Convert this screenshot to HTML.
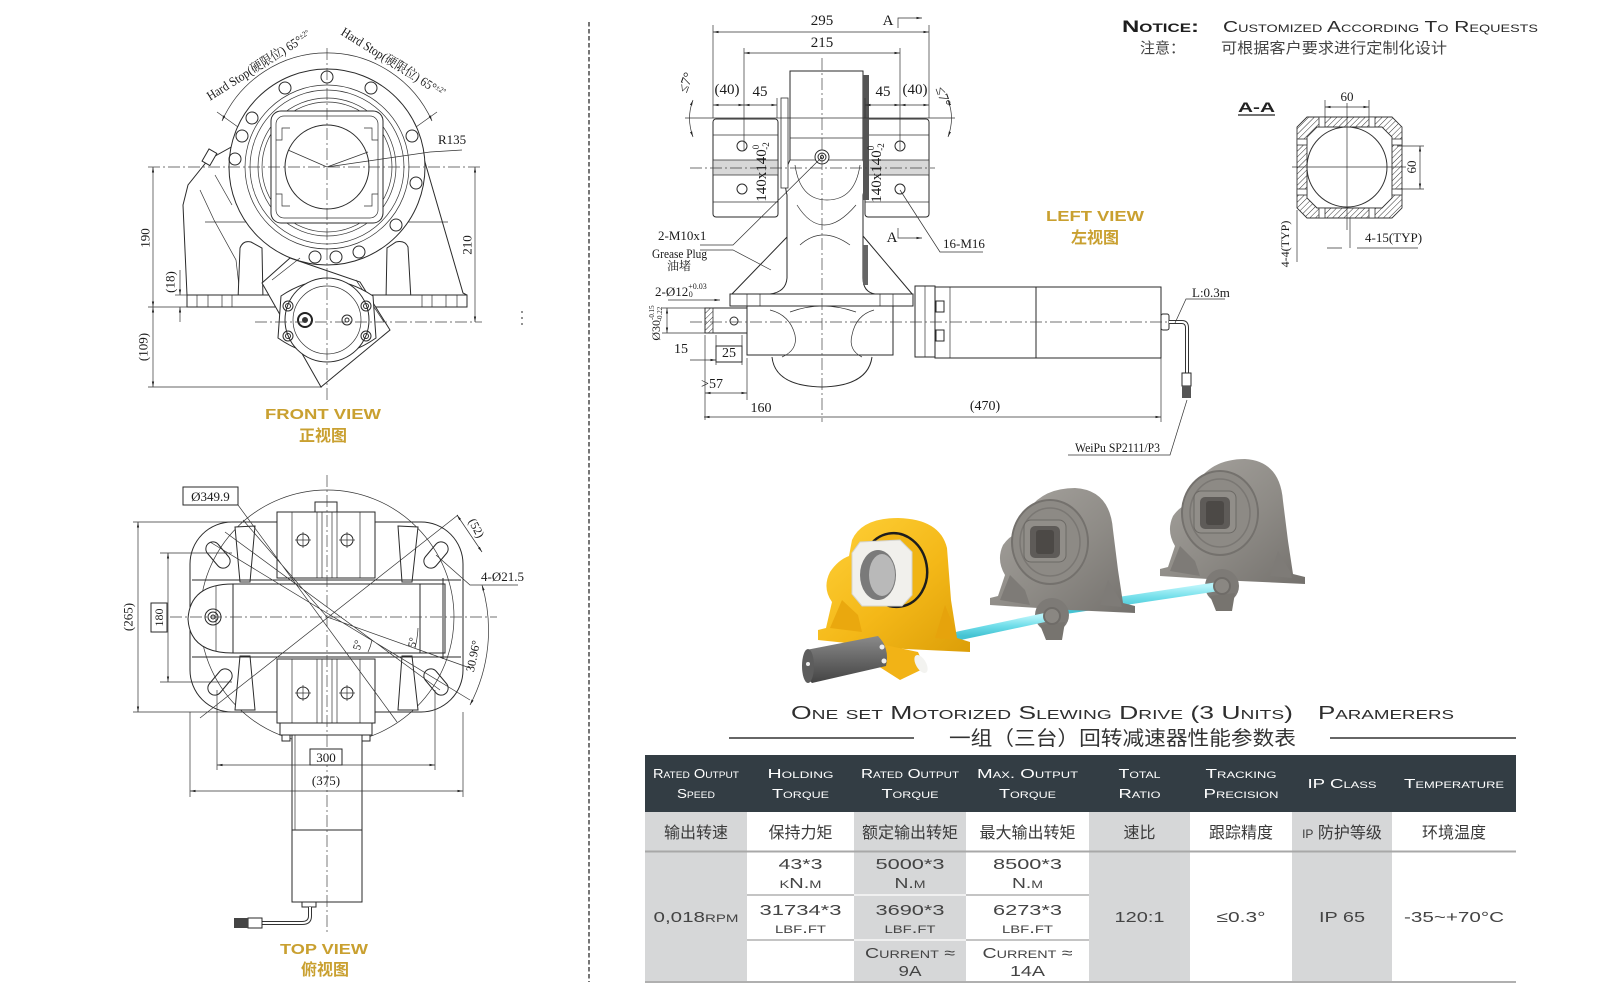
<!DOCTYPE html>
<html><head><meta charset="utf-8"><style>
html,body{margin:0;padding:0;background:#fff;}
svg{display:block;}
.l{stroke:#2a2a2a;stroke-width:1;fill:none}
.w{stroke:#2a2a2a;stroke-width:1;fill:#fff}
.t{stroke:#333;stroke-width:.7;fill:none}
.c{stroke:#444;stroke-width:.7;fill:none;stroke-dasharray:12 3 2 3}
.d{font-family:"Liberation Serif","Noto Serif CJK SC",serif;fill:#1a1a1a}
.s{font-family:"Liberation Sans","Noto Sans CJK SC",sans-serif}
.g{font-family:"Liberation Sans",sans-serif;font-weight:bold;fill:#c9a030}
.gc{font-family:"Noto Sans CJK SC",sans-serif;font-weight:bold;fill:#c9a030}
.sc{font-family:"Liberation Sans",sans-serif;font-variant:small-caps}
</style></head><body>
<svg width="1600" height="1000" viewBox="0 0 1600 1000" xmlns="http://www.w3.org/2000/svg">
<defs>
<marker id="a" viewBox="0 0 10 10" refX="10" refY="5" markerWidth="8" markerHeight="8" orient="auto-start-reverse"><path d="M0,3 L10,5 L0,7z" fill="#222"/></marker>
<pattern id="h" width="4" height="4" patternUnits="userSpaceOnUse" patternTransform="rotate(45)"><line x1="0" y1="0" x2="0" y2="4" stroke="#333" stroke-width="1"/></pattern>
<linearGradient id="yl" x1="0" y1="0" x2="1" y2="1"><stop offset="0" stop-color="#ffd23a"/><stop offset=".55" stop-color="#f4b818"/><stop offset="1" stop-color="#dc9e08"/></linearGradient>
<linearGradient id="gy" x1="0" y1="0" x2="1" y2="1"><stop offset="0" stop-color="#a8a5a0"/><stop offset=".55" stop-color="#8e8b86"/><stop offset="1" stop-color="#74716d"/></linearGradient>
<linearGradient id="mt" x1="0" y1="0" x2="0" y2="1"><stop offset="0" stop-color="#8a8a8a"/><stop offset=".45" stop-color="#6a6a6a"/><stop offset="1" stop-color="#444"/></linearGradient>
<linearGradient id="cy" x1="0" y1="0" x2="0" y2="1"><stop offset="0" stop-color="#b8f4fa"/><stop offset=".5" stop-color="#6fdde9"/><stop offset="1" stop-color="#45c3d3"/></linearGradient>
</defs>

<!-- separator -->
<line x1="589" y1="22" x2="589" y2="982" stroke="#555" stroke-width="1.6" stroke-dasharray="4.5 2.5"/>
<circle cx="522" cy="312" r="0.9" fill="#444"/><circle cx="522" cy="318" r="0.9" fill="#444"/><circle cx="522" cy="324" r="0.9" fill="#444"/>

<!-- ================= FRONT VIEW ================= -->
<g>
<path class="w" d="M187,307 L187,295 L183,205 L188,185 L208,160 L235,145 L420,145 L463,293 L467,295 L467,307 Z"/>
<line class="t" x1="205" y1="222" x2="448" y2="222"/>
<path class="t" d="M200,190 L214,220 L236,260 L240,295"/>
<path class="t" d="M215,175 L232,205"/>
<rect class="w" x="205" y="150" width="9" height="14" transform="rotate(30 209 157)"/>
<path class="w" d="M238,300 L240,248 Q243,240 251,242 L262,248 L263,300 Z"/>
<path class="w" d="M386,300 L387,248 L396,242 Q405,240 408,247 L411,300 Z"/>
<rect class="w" x="187" y="295" width="280" height="12"/>
<path class="t" d="M197,295V307M208,295V307M222,295V307M232,295V307M422,295V307M432,295V307M446,295V307M457,295V307"/>
<circle class="w" cx="327" cy="167" r="98"/>
<circle class="t" cx="327" cy="167" r="82"/>
<circle class="t" cx="327" cy="167" r="77"/>
<circle class="t" cx="327" cy="167" r="69"/>
<circle class="t" cx="327" cy="167" r="65"/>
<g class="l" stroke-width=".9">
<circle cx="235" cy="159" r="6"/><circle cx="242" cy="136" r="6"/><circle cx="252" cy="118" r="6"/>
<circle cx="285" cy="88" r="6"/><circle cx="327" cy="77" r="6"/><circle cx="371" cy="88" r="6"/>
<circle cx="412" cy="136" r="6"/><circle cx="416" cy="183" r="6"/><circle cx="396" cy="225" r="6"/>
<circle cx="359" cy="252" r="6"/><circle cx="336" cy="257" r="6"/><circle cx="315" cy="257" r="6"/>
</g>
<rect class="w" x="271" y="111" width="112" height="112" rx="10"/>
<rect class="t" x="276" y="116" width="102" height="102" rx="8"/>
<path class="t" d="M276,140h6v-12h8M378,140h-6v-12h-8M276,194h6v12h8M378,194h-6v12h-8"/>
<circle class="w" cx="327" cy="167" r="42"/>
<path class="t" d="M327,167 L288,150 M327,167 L368,152 M327,167 L430,152 L462,150"/>
<!-- motor mount -->
<path class="w" d="M290,258 L262,283 L321,387 L390,330 L360,282 Z"/>
<path class="t" d="M272,280 L300,258 M384,322 L356,280"/>
<path class="w" d="M281,296 Q327,265 373,296 L376,338 Q327,372 278,338 Z"/>
<circle class="w" cx="327" cy="320" r="42"/>
<circle class="t" cx="327" cy="320" r="34"/>
<g class="l"><circle cx="288" cy="306" r="5"/><circle cx="366" cy="306" r="5"/><circle cx="288" cy="336" r="5"/><circle cx="366" cy="336" r="5"/>
<circle cx="288" cy="306" r="2.5"/><circle cx="366" cy="306" r="2.5"/><circle cx="288" cy="336" r="2.5"/><circle cx="366" cy="336" r="2.5"/></g>
<circle cx="305" cy="320" r="7" fill="#fff" stroke="#222" stroke-width="2"/><circle cx="305" cy="320" r="3" fill="#333"/>
<circle class="l" cx="347" cy="320" r="5"/><circle class="l" cx="347" cy="320" r="2"/>
<!-- centerlines -->
<line class="c" x1="327" y1="48" x2="327" y2="402"/>
<line class="c" x1="148" y1="167" x2="482" y2="167"/>
<line class="c" x1="255" y1="322" x2="482" y2="322"/>
<!-- dims -->
<line class="t" x1="148" y1="307" x2="190" y2="307"/>
<line class="t" x1="148" y1="387" x2="322" y2="387"/>
<line class="t" x1="153" y1="167" x2="153" y2="307" marker-start="url(#a)" marker-end="url(#a)"/>
<line class="t" x1="153" y1="307" x2="153" y2="387" marker-start="url(#a)" marker-end="url(#a)"/>
<line class="t" x1="180" y1="270" x2="180" y2="295" marker-end="url(#a)"/>
<line class="t" x1="180" y1="322" x2="180" y2="307" marker-end="url(#a)"/>
<line class="t" x1="175" y1="295" x2="187" y2="295"/>
<line class="t" x1="475" y1="167" x2="475" y2="322" marker-start="url(#a)" marker-end="url(#a)"/>
<text class="d" font-size="13" text-anchor="middle" transform="translate(149.5,238) rotate(-90)">190</text>
<text class="d" font-size="13" text-anchor="middle" transform="translate(174.5,282) rotate(-90)">(18)</text>
<text class="d" font-size="13" text-anchor="middle" transform="translate(147.5,347) rotate(-90)">(109)</text>
<text class="d" font-size="13" text-anchor="middle" transform="translate(471.5,245) rotate(-90)">210</text>
<text class="d" font-size="13" x="438" y="144">R135</text>
<path class="t" d="M222,121 A115,115 0 0 1 432,121" marker-start="url(#a)" marker-end="url(#a)"/>
<path class="t" d="M217,112 L238,127 M437,112 L416,127"/>
<text class="d" font-size="13" text-anchor="middle" transform="translate(261,69) rotate(-32)" textLength="120" lengthAdjust="spacingAndGlyphs">Hard Stop(硬限位) 65°<tspan font-size="8" dy="-4">±2°</tspan></text>
<text class="d" font-size="13" text-anchor="middle" transform="translate(391,66) rotate(32)" textLength="120" lengthAdjust="spacingAndGlyphs">Hard Stop(硬限位) 65°<tspan font-size="8" dy="-4">±2°</tspan></text>
<text class="g" font-size="15" x="323" y="419" text-anchor="middle" textLength="116" lengthAdjust="spacingAndGlyphs">FRONT VIEW</text>
<text class="gc" font-size="16" x="323" y="441" text-anchor="middle">正视图</text>
</g>

<!-- ================= TOP VIEW ================= -->
<g>
<rect class="w" x="190" y="522" width="273" height="190" rx="42"/>
<circle class="t" cx="327" cy="617" r="127" stroke-width=".6"/>
<g class="l">
<rect x="203" y="548" width="30" height="14" rx="7" transform="rotate(50 218 555)"/>
<rect x="421" y="548" width="30" height="14" rx="7" transform="rotate(-50 436 555)"/>
<rect x="205" y="675" width="30" height="14" rx="7" transform="rotate(-50 220 682)"/>
<rect x="421" y="675" width="30" height="14" rx="7" transform="rotate(50 436 682)"/>
</g>
<path class="w" d="M235,527 L255,526 L250,582 L240,582 Z"/>
<path class="w" d="M398,526 L418,527 L412,582 L402,582 Z"/>
<path class="w" d="M240,656 L250,656 L255,710 L235,710 Z"/>
<path class="w" d="M402,656 L412,656 L418,710 L398,710 Z"/>
<line class="l" x1="192" y1="580" x2="461" y2="580"/>
<line class="l" x1="192" y1="657" x2="461" y2="657"/>
<path class="w" d="M233,584 L445,584 L445,653 L233,653 Q190,653 188,619 Q190,584 233,584 Z"/>
<line class="l" x1="233" y1="584" x2="233" y2="653"/>
<line class="t" x1="216" y1="586" x2="216" y2="651"/>
<line class="l" x1="420" y1="584" x2="420" y2="653"/>
<line class="l" x1="443" y1="578" x2="443" y2="659"/>
<circle class="l" cx="213" cy="617" r="8"/><circle class="l" cx="213" cy="617" r="5"/><circle class="l" cx="213" cy="617" r="2"/>
<rect class="w" x="315" y="502" width="22" height="10"/>
<rect class="w" x="277" y="512" width="98" height="66"/>
<path class="t" d="M292,512V578M317,512V578M322,512V578M332,512V578M337,512V578M360,512V578"/>
<rect class="w" x="277" y="659" width="98" height="64"/>
<path class="t" d="M292,659V723M317,659V723M322,659V723M332,659V723M337,659V723M360,659V723"/>
<g class="l"><circle cx="303" cy="540" r="6"/><circle cx="347" cy="540" r="6"/><circle cx="303" cy="693" r="6"/><circle cx="347" cy="693" r="6"/></g>
<path class="t" d="M295,540h16M303,532v16M339,540h16M347,532v16M295,693h16M303,685v16M339,693h16M347,685v16"/>
<rect class="w" x="280" y="723" width="92" height="12"/>
<rect class="w" x="282" y="735" width="8" height="6"/><rect class="w" x="362" y="735" width="8" height="6"/>
<rect class="w" x="292" y="735" width="70" height="167"/>
<line class="l" x1="292" y1="830" x2="362" y2="830"/>
<line class="t" x1="295" y1="735" x2="295" y2="830"/>
<rect class="w" x="302" y="902" width="14" height="5"/>
<path d="M310,907 L310,916 Q310,923 302,923 L262,923" stroke="#333" stroke-width="4" fill="none"/>
<path d="M310,907 L310,916 Q310,923 302,923 L262,923" stroke="#fff" stroke-width="2" fill="none"/>
<rect class="w" x="248" y="918" width="14" height="10"/><rect x="234" y="918" width="14" height="10" fill="#444"/>
<line class="c" x1="327" y1="475" x2="327" y2="932"/>
<line class="c" x1="170" y1="617" x2="497" y2="617"/>
<path class="t" d="M238,505 L397,722 M210,542 L470,700 M225,532 L440,690 M458,515 L200,718 M243,520 L327,617 L470,668"/>
<rect class="w" x="183" y="487" width="55" height="18"/>
<text class="d" font-size="13" x="210.5" y="501" text-anchor="middle">Ø349.9</text>
<path class="t" d="M133,522H232M133,712H240M160,553H232M160,682H232"/>
<line class="t" x1="138" y1="522" x2="138" y2="712" marker-start="url(#a)" marker-end="url(#a)"/>
<line class="t" x1="168" y1="553" x2="168" y2="682" marker-start="url(#a)" marker-end="url(#a)"/>
<rect class="w" x="151" y="603" width="16" height="29"/>
<text class="d" font-size="12" text-anchor="middle" transform="translate(163,617.5) rotate(-90)">180</text>
<text class="d" font-size="13" text-anchor="middle" transform="translate(132.5,617) rotate(-90)">(265)</text>
<line class="t" x1="457" y1="515" x2="482" y2="552" marker-start="url(#a)" marker-end="url(#a)"/>
<text class="d" font-size="12" text-anchor="middle" transform="translate(473,530) rotate(62)">(52)</text>
<path class="t" d="M436,555 L470,585 L518,585"/>
<text class="d" font-size="13" x="481" y="581">4-Ø21.5</text>
<path class="t" d="M482,585 A160,160 0 0 1 470,705" marker-start="url(#a)" marker-end="url(#a)"/>
<text class="d" font-size="12" text-anchor="middle" transform="translate(477,657) rotate(-78)">30.96°</text>
<path class="t" d="M372,640 A48,48 0 0 1 368,652 M418,628 A95,95 0 0 1 415,648"/>
<text class="d" font-size="11" text-anchor="middle" transform="translate(361,646) rotate(-75)">5°</text>
<text class="d" font-size="11" text-anchor="middle" transform="translate(416,643) rotate(-80)">5°</text>
<path class="t" d="M217,690V770M435,690V770M190,712V797M463,712V797"/>
<line class="t" x1="217" y1="765" x2="435" y2="765" marker-start="url(#a)" marker-end="url(#a)"/>
<line class="t" x1="190" y1="791" x2="463" y2="791" marker-start="url(#a)" marker-end="url(#a)"/>
<rect class="w" x="310" y="749" width="32" height="16"/>
<text class="d" font-size="13" x="326" y="762" text-anchor="middle">300</text>
<text class="d" font-size="13" x="326" y="785" text-anchor="middle">(375)</text>
<text class="g" font-size="15" x="324" y="954" text-anchor="middle" textLength="88" lengthAdjust="spacingAndGlyphs">TOP VIEW</text>
<text class="gc" font-size="16" x="325" y="975" text-anchor="middle">俯视图</text>
</g>

<!-- ================= LEFT VIEW ================= -->
<g>
<rect class="w" x="713" y="119" width="65" height="98" rx="3"/>
<rect class="w" x="865" y="119" width="64" height="98" rx="3"/>
<path class="t" d="M713,135H778M713,202H778M865,135H929M865,202H929"/>
<rect x="714" y="160" width="63" height="15" fill="#d8d8d8"/><rect x="866" y="160" width="62" height="15" fill="#d8d8d8"/>
<path class="t" d="M713,160H778M713,175H778M865,160H929M865,175H929"/>
<g class="l"><circle cx="742" cy="146" r="5"/><circle cx="742" cy="189" r="5"/><circle cx="900" cy="146" r="5"/><circle cx="900" cy="189" r="5"/></g>
<path class="l" d="M731,295 L788,236 M913,295 L863,236"/>
<path class="w" d="M790,71 L863,71 L863,160 Q868,175 863,195 L863,278 Q863,292 875,294 L770,294 Q786,292 787,278 L787,195 Q782,175 790,160 Z"/>
<rect x="863" y="75" width="6" height="125" fill="#555"/>
<rect x="863" y="245" width="5" height="40" fill="#666"/>
<line class="t" x1="790" y1="138" x2="863" y2="138"/>
<line class="t" x1="790" y1="160" x2="863" y2="160"/>
<path class="t" d="M795,165 Q800,200 827,200 Q855,200 860,165"/>
<path class="t" d="M797,205 Q822,245 856,205"/>
<path class="t" d="M800,245 Q822,225 850,245"/>
<circle class="w" cx="822" cy="157" r="7"/><circle class="l" cx="822" cy="157" r="4"/><circle class="l" cx="822" cy="157" r="1.5"/>
<rect x="781" y="98" width="7" height="90" fill="#fff" stroke="#333" stroke-width=".8"/>
<rect class="w" x="730" y="294" width="183" height="12"/>
<path class="t" d="M747,294V306M760,294V306M880,294V306M893,294V306"/>
<rect class="w" x="747" y="306" width="146" height="49"/>
<path class="w" d="M772,357 Q775,386 822,387 Q868,386 872,357"/>
<path class="t" d="M770,310 Q790,315 795,335 Q798,350 782,357 M874,310 Q856,315 852,335 Q848,350 862,357 M790,312 Q822,300 856,312"/>
<rect class="w" x="705" y="308" width="42" height="25"/>
<rect x="705" y="308" width="8" height="25" fill="url(#h)" stroke="#333" stroke-width=".8"/>
<circle class="l" cx="734" cy="321" r="4"/>
<rect class="w" x="716" y="346" width="26" height="16"/>
<rect class="w" x="935" y="287" width="226" height="71"/>
<line class="l" x1="1036" y1="287" x2="1036" y2="358"/>
<line class="t" x1="950" y1="287" x2="950" y2="358"/>
<rect class="w" x="915" y="286" width="20" height="71"/>
<line class="t" x1="925" y1="286" x2="925" y2="357"/>
<rect class="w" x="936" y="301" width="8" height="11"/><rect class="w" x="936" y="330" width="8" height="11"/>
<rect class="w" x="1161" y="314" width="8" height="16" rx="2"/>
<path d="M1169,322 L1182,322 Q1187,322 1187,328 L1187,373" stroke="#333" stroke-width="4" fill="none"/>
<path d="M1169,322 L1182,322 Q1187,322 1187,328 L1187,373" stroke="#fff" stroke-width="2" fill="none"/>
<rect class="w" x="1182" y="373" width="9" height="13"/><rect x="1182" y="386" width="9" height="12" fill="#555"/>
<line class="c" x1="822" y1="58" x2="822" y2="422"/>
<line class="c" x1="690" y1="168" x2="935" y2="168"/>
<line class="c" x1="690" y1="322" x2="1170" y2="322"/>
<path class="t" d="M713,25V118M929,25V118M744,48V150M900,48V150M777,98V118M865,98V118"/>
<line class="t" x1="713" y1="32" x2="929" y2="32" marker-start="url(#a)" marker-end="url(#a)"/>
<line class="t" x1="744" y1="53" x2="900" y2="53" marker-start="url(#a)" marker-end="url(#a)"/>
<text class="d" font-size="15" x="822" y="25" text-anchor="middle">295</text>
<text class="d" font-size="15" x="822" y="47" text-anchor="middle">215</text>
<text class="d" font-size="15" x="888" y="25" text-anchor="middle">A</text>
<path class="t" d="M898,28 V18 H922" marker-end="url(#a)"/>
<line class="t" x1="713" y1="105" x2="744" y2="105" marker-start="url(#a)" marker-end="url(#a)"/>
<line class="t" x1="744" y1="105" x2="777" y2="105" marker-start="url(#a)" marker-end="url(#a)"/>
<line class="t" x1="865" y1="105" x2="900" y2="105" marker-start="url(#a)" marker-end="url(#a)"/>
<line class="t" x1="900" y1="105" x2="929" y2="105" marker-start="url(#a)" marker-end="url(#a)"/>
<text class="d" font-size="15" x="727" y="94" text-anchor="middle">(40)</text>
<text class="d" font-size="15" x="760" y="96" text-anchor="middle">45</text>
<text class="d" font-size="15" x="883" y="96" text-anchor="middle">45</text>
<text class="d" font-size="15" x="915" y="94" text-anchor="middle">(40)</text>
<line class="t" x1="685" y1="118" x2="955" y2="118"/>
<path class="t" d="M693,100 Q686,118 693,137" marker-start="url(#a)" marker-end="url(#a)"/>
<path class="t" d="M948,100 Q955,118 948,137" marker-start="url(#a)" marker-end="url(#a)"/>
<text class="d" font-size="14" text-anchor="middle" transform="translate(690,84) rotate(-70)">≤7°</text>
<text class="d" font-size="14" text-anchor="middle" transform="translate(939,98) rotate(70)">≤7°</text>
<text class="d" font-size="15" text-anchor="middle" transform="translate(766,172) rotate(-90)">140x140<tspan font-size="9" dy="-7">0</tspan><tspan font-size="9" dx="-5" dy="10">-2</tspan></text>
<text class="d" font-size="15" text-anchor="middle" transform="translate(881,173) rotate(-90)">140x140<tspan font-size="9" dy="-7">0</tspan><tspan font-size="9" dx="-5" dy="10">-2</tspan></text>
<text class="d" font-size="13" x="658" y="240">2-M10x1</text>
<text class="d" font-size="13" x="652" y="258" textLength="55" lengthAdjust="spacingAndGlyphs">Grease Plug</text>
<text class="d" font-size="12" x="667" y="270">油堵</text>
<path class="t" d="M700,245 L733,245 L822,157 M700,250 L733,250 L771,270"/>
<text class="d" font-size="15" x="892" y="242" text-anchor="middle">A</text>
<path class="t" d="M898,228 V238 H922" marker-end="url(#a)"/>
<path class="t" d="M900,190 L940,252 L983,252"/>
<text class="d" font-size="13" x="943" y="248">16-M16</text>
<text class="d" font-size="13" x="655" y="296">2-Ø12<tspan font-size="8" dy="-7">+0.03</tspan><tspan font-size="8" dx="-18" dy="8">0</tspan></text>
<path class="t" d="M668,300 L720,300" marker-end="url(#a)"/>
<line class="t" x1="667" y1="308" x2="667" y2="333" marker-start="url(#a)" marker-end="url(#a)"/>
<path class="t" d="M662,308H705M662,333H705"/>
<text class="d" font-size="12" text-anchor="middle" transform="translate(660,323) rotate(-90)">Ø30<tspan font-size="7" dy="-6">-0.15</tspan><tspan font-size="7" dx="-16" dy="8">-0.22</tspan></text>
<path class="t" d="M705,335V420M716,335V365M742,335V365M747,358V400M1161,358V422"/>
<line class="t" x1="690" y1="360" x2="716" y2="360" marker-end="url(#a)"/>
<text class="d" font-size="14" x="681" y="353" text-anchor="middle">15</text>
<text class="d" font-size="14" x="729" y="357" text-anchor="middle">25</text>
<line class="t" x1="705" y1="393" x2="747" y2="393" marker-start="url(#a)" marker-end="url(#a)"/>
<text class="d" font-size="14" x="712" y="388" text-anchor="middle">&gt;57</text>
<line class="t" x1="704" y1="417" x2="1161" y2="417" marker-start="url(#a)" marker-end="url(#a)"/>
<text class="d" font-size="14" x="761" y="412" text-anchor="middle">160</text>
<text class="d" font-size="14" x="985" y="410" text-anchor="middle">(470)</text>
<path class="t" d="M1175,323 L1186,299 L1225,299"/>
<text class="d" font-size="13" x="1192" y="297">L:0.3m</text>
<path class="t" d="M1187,400 L1170,455 L1068,455"/>
<text class="d" font-size="13" x="1075" y="452" textLength="85" lengthAdjust="spacingAndGlyphs">WeiPu  SP2111/P3</text>
<text class="g" font-size="15" x="1095" y="221" text-anchor="middle" textLength="98" lengthAdjust="spacingAndGlyphs">LEFT VIEW</text>
<text class="gc" font-size="16" x="1095" y="243" text-anchor="middle">左视图</text>
</g>

<!-- ================= NOTICE + SECTION A-A ================= -->
<text class="sc" font-size="17" font-weight="bold" x="1122" y="32" fill="#1d1d1d" textLength="77" lengthAdjust="spacingAndGlyphs">Notice:</text>
<text class="sc" font-size="16" x="1223" y="32" fill="#2a2a2a" textLength="315" lengthAdjust="spacingAndGlyphs">Customized According To Requests</text>
<text class="s" font-size="15" x="1140" y="53" fill="#444">注意：</text>
<text class="s" font-size="15" x="1221" y="53" fill="#444" textLength="226" lengthAdjust="spacingAndGlyphs">可根据客户要求进行定制化设计</text>
<text class="s" font-size="14" font-weight="bold" x="1238" y="112" fill="#222" textLength="37" lengthAdjust="spacingAndGlyphs">A-A</text>
<line x1="1238" y1="115" x2="1275" y2="115" stroke="#222" stroke-width="1.3"/>
<path d="M1307,117 H1392 L1402,127 V208 L1392,218 H1307 L1297,208 V127 Z M1317,127 H1382 L1392,137 V198 L1382,208 H1317 L1307,198 V137 Z" fill="url(#h)" fill-rule="evenodd" stroke="#333" stroke-width=".9"/>
<g fill="#fff" stroke="#333" stroke-width=".8">
<rect x="1319" y="117" width="6" height="10"/><rect x="1369" y="117" width="6" height="10"/>
<rect x="1319" y="208" width="6" height="10"/><rect x="1369" y="208" width="6" height="10"/>
<rect x="1297" y="139" width="10" height="6"/><rect x="1297" y="189" width="10" height="6"/>
<rect x="1392" y="139" width="10" height="6"/><rect x="1392" y="189" width="10" height="6"/>
</g>
<circle cx="1347" cy="167" r="40" fill="#fff" stroke="#333" stroke-width="1"/>
<path class="t" d="M1347,103V230M1292,167H1406M1325,100V117M1369,100V117M1397,146H1424M1397,189H1424M1297,210V262M1350,218V248"/>
<line class="t" x1="1325" y1="107" x2="1369" y2="107" marker-start="url(#a)" marker-end="url(#a)"/>
<line class="t" x1="1420" y1="146" x2="1420" y2="189" marker-start="url(#a)" marker-end="url(#a)"/>
<text class="d" font-size="13" x="1347" y="101" text-anchor="middle">60</text>
<text class="d" font-size="13" text-anchor="middle" transform="translate(1416,167) rotate(-90)">60</text>
<path class="t" d="M1327,248 H1342 M1357,248 H1418" />
<text class="d" font-size="13" x="1365" y="242">4-15(TYP)</text>
<text class="d" font-size="12" text-anchor="middle" transform="translate(1289,244) rotate(-90)">4-4(TYP)</text>

<!-- ================= 3D RENDER ================= -->
<g>
<!-- gray unit 2 (offset +170,-29 from unit 1) -->
<g transform="translate(170,-29)">
<path d="M990,605 L990,598 L998,596 L1005,575 Q996,560 1003,545 Q1010,535 1020,532 L1025,515 Q1040,488 1075,488 Q1110,490 1113,530 L1118,570 L1123,603 L1135,606 L1135,613 L1070,610 Z" fill="url(#gy)"/>
<path d="M1000,600 L1010,575 L1025,590 L1030,605 Z" fill="#7e7b77"/>
<path d="M1100,605 L1108,580 L1120,600 L1122,607 Z" fill="#7e7b77"/>
<ellipse cx="1050" cy="542" rx="38" ry="42" fill="#8d8a85" stroke="#74716d" stroke-width="2"/>
<ellipse cx="1050" cy="542" rx="30" ry="34" fill="none" stroke="#7a7773" stroke-width="1.5"/>
<rect x="1024" y="520" width="42" height="42" rx="7" fill="#918e89" stroke="#6c6965" stroke-width="1"/>
<rect x="1030" y="526" width="30" height="32" rx="5" fill="#5e5b58"/>
<rect x="1036" y="530" width="18" height="24" rx="3" fill="#4c4946"/>
<circle cx="1052" cy="615" r="17" fill="#7d7a76"/>
<path d="M1040,625 L1065,622 L1062,640 L1046,640 Z" fill="#77746f"/>
</g>
<!-- shaft 2 -->
<path d="M1062,610 L1222,586" stroke="url(#cy)" stroke-width="9" stroke-linecap="round"/>
<circle cx="1222" cy="586" r="8" fill="#8a8782" stroke="#6f6c68" stroke-width="2"/>
<!-- gray unit 1 -->
<path d="M990,605 L990,598 L998,596 L1005,575 Q996,560 1003,545 Q1010,535 1020,532 L1025,515 Q1040,488 1075,488 Q1110,490 1113,530 L1118,570 L1123,603 L1135,606 L1135,613 L1070,610 Z" fill="url(#gy)"/>
<path d="M1000,600 L1010,575 L1025,590 L1030,605 Z" fill="#7e7b77"/>
<path d="M1100,605 L1108,580 L1120,600 L1122,607 Z" fill="#7e7b77"/>
<ellipse cx="1050" cy="542" rx="38" ry="42" fill="#8d8a85" stroke="#74716d" stroke-width="2"/>
<ellipse cx="1050" cy="542" rx="30" ry="34" fill="none" stroke="#7a7773" stroke-width="1.5"/>
<rect x="1024" y="520" width="42" height="42" rx="7" fill="#918e89" stroke="#6c6965" stroke-width="1"/>
<rect x="1030" y="526" width="30" height="32" rx="5" fill="#5e5b58"/>
<rect x="1036" y="530" width="18" height="24" rx="3" fill="#4c4946"/>
<circle cx="1052" cy="615" r="17" fill="#7d7a76"/>
<path d="M1040,625 L1065,622 L1062,640 L1046,640 Z" fill="#77746f"/>
<!-- shaft 1 -->
<path d="M958,636 L1052,616" stroke="url(#cy)" stroke-width="9" stroke-linecap="round"/>
<circle cx="1052" cy="616" r="8" fill="#8a8782" stroke="#6f6c68" stroke-width="2"/>
<!-- yellow unit -->
<path d="M818,640 L818,630 L826,628 L832,602 Q822,588 830,572 Q838,560 849,556 L852,540 Q862,518 898,518 Q940,519 947,548 L951,600 L957,638 L970,642 L970,652 L905,649 Z" fill="url(#yl)"/>
<path d="M830,628 L842,600 L858,615 L862,632 Z" fill="#eaa80e"/>
<path d="M935,638 L945,605 L955,630 L957,640 Z" fill="#e6a30c"/>
<ellipse cx="895" cy="570" rx="32" ry="37" fill="#f0b414" stroke="#1d1d1d" stroke-width="2.5" transform="rotate(-10 895 570)"/>
<path d="M860,542 L900,540 L912,552 L912,595 L902,606 L862,606 L852,594 L852,553 Z" fill="#f1f0ec" stroke="#d4d3ce" stroke-width="1"/>
<ellipse cx="878" cy="575" rx="18" ry="25" fill="#7a7a7a"/>
<ellipse cx="882" cy="575" rx="13" ry="21" fill="#b9b9b9"/>
<path d="M880,644 L918,652 L925,668 L900,680 L878,666 Z" fill="#f2b316"/>
<ellipse cx="921" cy="664" rx="5" ry="10" fill="#f3f3f0" transform="rotate(-30 921 664)"/>
<path d="M806,650 L878,636 Q890,648 886,666 L812,683 Q798,672 806,650 Z" fill="url(#mt)"/>
<ellipse cx="808" cy="666" rx="6" ry="17" fill="#5d5d5d"/>
<circle cx="882" cy="647" r="2.5" fill="#eee"/><circle cx="884" cy="661" r="2.5" fill="#eee"/><circle cx="808" cy="664" r="2" fill="#eee"/>
</g>

<!-- ================= TITLE ================= -->
<text class="sc" font-size="18" x="791" y="719" fill="#2e2e2e" textLength="502" lengthAdjust="spacingAndGlyphs">One set Motorized Slewing Drive (3 Units)</text>
<text class="sc" font-size="18" x="1318" y="719" fill="#2e2e2e" textLength="136" lengthAdjust="spacingAndGlyphs">Paramerers</text>
<line x1="729" y1="738" x2="914" y2="738" stroke="#333" stroke-width="1.6"/>
<line x1="1330" y1="738" x2="1516" y2="738" stroke="#333" stroke-width="1.6"/>
<text class="s" font-size="20" x="949" y="745" fill="#333" textLength="347" lengthAdjust="spacingAndGlyphs">一组（三台）回转减速器性能参数表</text>

<!-- ================= TABLE ================= -->
<g>
<rect x="645" y="755" width="871" height="57" fill="#333d44"/>
<rect x="645" y="812" width="871" height="170" fill="#fff"/>
<rect x="645" y="812" width="102" height="170" fill="#d6d7d8"/>
<rect x="854" y="812" width="112" height="170" fill="#d6d7d8"/>
<rect x="1089" y="812" width="101" height="170" fill="#d6d7d8"/>
<rect x="1292" y="812" width="100" height="170" fill="#d6d7d8"/>
<line x1="645" y1="851.5" x2="1516" y2="851.5" stroke="#a8a8a8" stroke-width="2"/>
<line x1="645" y1="982" x2="1516" y2="982" stroke="#b0b0b0" stroke-width="2"/>
<line x1="747" y1="895" x2="854" y2="895" stroke="#c4c4c4" stroke-width="2"/>
<line x1="747" y1="940" x2="854" y2="940" stroke="#c4c4c4" stroke-width="2"/>
<line x1="854" y1="895" x2="966" y2="895" stroke="#f0f0f0" stroke-width="2"/>
<line x1="854" y1="940" x2="966" y2="940" stroke="#f0f0f0" stroke-width="2"/>
<line x1="966" y1="895" x2="1089" y2="895" stroke="#c4c4c4" stroke-width="2"/>
<line x1="966" y1="940" x2="1089" y2="940" stroke="#c4c4c4" stroke-width="2"/>

<g class="sc" fill="#fff" font-size="13" text-anchor="middle" lengthAdjust="spacingAndGlyphs">
<text x="696" y="778" textLength="86" lengthAdjust="spacingAndGlyphs">Rated Output</text><text x="696" y="798" textLength="38" lengthAdjust="spacingAndGlyphs">Speed</text>
<text x="800.5" y="778" textLength="66" lengthAdjust="spacingAndGlyphs">Holding</text><text x="800.5" y="798" textLength="57" lengthAdjust="spacingAndGlyphs">Torque</text>
<text x="910" y="778" textLength="98" lengthAdjust="spacingAndGlyphs">Rated Output</text><text x="910" y="798" textLength="57" lengthAdjust="spacingAndGlyphs">Torque</text>
<text x="1027.5" y="778" textLength="101" lengthAdjust="spacingAndGlyphs">Max. Output</text><text x="1027.5" y="798" textLength="57" lengthAdjust="spacingAndGlyphs">Torque</text>
<text x="1139.5" y="778" textLength="42" lengthAdjust="spacingAndGlyphs">Total</text><text x="1139.5" y="798" textLength="42" lengthAdjust="spacingAndGlyphs">Ratio</text>
<text x="1241" y="778" textLength="71" lengthAdjust="spacingAndGlyphs">Tracking</text><text x="1241" y="798" textLength="75" lengthAdjust="spacingAndGlyphs">Precision</text>
<text x="1342" y="788" textLength="69" lengthAdjust="spacingAndGlyphs">IP Class</text>
<text x="1454" y="788" textLength="100" lengthAdjust="spacingAndGlyphs">Temperature</text>
</g>
<g class="s" fill="#3a3a3a" font-size="16" text-anchor="middle">
<text x="696" y="838">输出转速</text>
<text x="800.5" y="838">保持力矩</text>
<text x="910" y="838">额定输出转矩</text>
<text x="1027.5" y="838">最大输出转矩</text>
<text x="1139.5" y="838">速比</text>
<text x="1241" y="838">跟踪精度</text>
<text x="1342" y="838"><tspan font-size="12">IP</tspan> 防护等级</text>
<text x="1454" y="838">环境温度</text>
</g>
<g class="sc" fill="#444" font-size="15" text-anchor="middle">
<text x="800.5" y="869" textLength="44" lengthAdjust="spacingAndGlyphs">43*3</text><text x="800.5" y="888" textLength="42" lengthAdjust="spacingAndGlyphs">kN.m</text>
<text x="910" y="869" textLength="69" lengthAdjust="spacingAndGlyphs">5000*3</text><text x="910" y="888" textLength="31" lengthAdjust="spacingAndGlyphs">N.m</text>
<text x="1027.5" y="869" textLength="69" lengthAdjust="spacingAndGlyphs">8500*3</text><text x="1027.5" y="888" textLength="31" lengthAdjust="spacingAndGlyphs">N.m</text>
<text x="800.5" y="915" textLength="82" lengthAdjust="spacingAndGlyphs">31734*3</text><text x="800.5" y="933" textLength="51" lengthAdjust="spacingAndGlyphs">lbf.ft</text>
<text x="910" y="915" textLength="69" lengthAdjust="spacingAndGlyphs">3690*3</text><text x="910" y="933" textLength="51" lengthAdjust="spacingAndGlyphs">lbf.ft</text>
<text x="1027.5" y="915" textLength="69" lengthAdjust="spacingAndGlyphs">6273*3</text><text x="1027.5" y="933" textLength="51" lengthAdjust="spacingAndGlyphs">lbf.ft</text>
<text x="910" y="958" textLength="90" lengthAdjust="spacingAndGlyphs">Current ≈</text><text x="910" y="976" textLength="23" lengthAdjust="spacingAndGlyphs">9A</text>
<text x="1027.5" y="958" textLength="90" lengthAdjust="spacingAndGlyphs">Current ≈</text><text x="1027.5" y="976" textLength="35" lengthAdjust="spacingAndGlyphs">14A</text>
<text x="696" y="922" textLength="85" lengthAdjust="spacingAndGlyphs">0,018rpm</text>
<text x="1139.5" y="922" textLength="50" lengthAdjust="spacingAndGlyphs">120:1</text>
<text x="1241" y="922" textLength="49" lengthAdjust="spacingAndGlyphs">≤0.3°</text>
<text x="1342" y="922" textLength="46" lengthAdjust="spacingAndGlyphs">IP 65</text>
<text x="1454" y="922" textLength="100" lengthAdjust="spacingAndGlyphs">-35~+70°C</text>
</g>
</g>
</svg>
</body></html>
